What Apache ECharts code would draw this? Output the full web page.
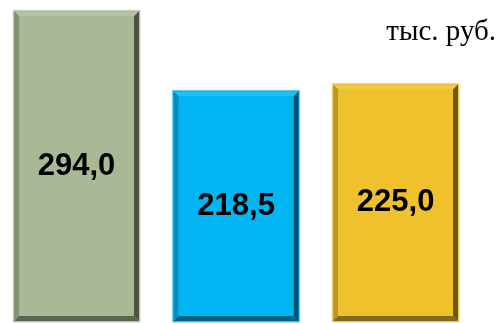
<!DOCTYPE html>
<html>
<head>
<meta charset="utf-8">
<script src="https://cdn.jsdelivr.net/npm/echarts@6/dist/echarts.min.js"></script>
<style>
  html, body { margin: 0; padding: 0; background: #fff; }
  #main { width: 498px; height: 323px; }
</style>
</head>
<body>
<div id="main"></div>
<script>
var categories = ['A', 'B', 'C'];
var values = [294.0, 218.5, 225.0];
var labels = ['294,0', '218,5', '225,0'];
var colors = ['#a9b895', '#00b5f1', '#efc12d'];
var unitLabel = 'тыс. руб.';

// lighten / darken a hex colour
function shade(hex, k) {
    var n = parseInt(hex.slice(1), 16);
    var r = (n >> 16) & 255, g = (n >> 8) & 255, b = n & 255;
    function f(c) {
        var v = k < 0 ? c * (1 + k) : c + (255 - c) * k;
        return Math.max(0, Math.min(255, Math.round(v)));
    }
    return 'rgb(' + f(r) + ',' + f(g) + ',' + f(b) + ')';
}

function renderBevelBar(params, api) {
    var idx = api.value(0);
    var top = api.coord([idx, api.value(1)]);
    var base = api.coord([idx, 0]);
    var bw = api.size([1, 0])[0] * 0.795;
    var x0 = top[0] - bw / 2, x1 = top[0] + bw / 2;
    var y0 = top[1], y1 = base[1];
    var b = 6;
    var c = colors[idx];
    function poly(pts, fill) {
        return { type: 'polygon', shape: { points: pts }, style: { fill: fill } };
    }
    return {
        type: 'group',
        children: [
            { type: 'rect', shape: { x: x0, y: y0, width: bw, height: y1 - y0 },
              style: { fill: c, stroke: shade(c, 0.35), lineWidth: 1 } },
            poly([[x0 + 1, y0 + 1], [x1 - 1, y0 + 1], [x1 - b, y0 + b], [x0 + b, y0 + b]], shade(c, 0.12)),
            poly([[x0 + 1, y0 + 1], [x0 + b, y0 + b], [x0 + b, y1 - b], [x0 + 1, y1 - 1]], shade(c, -0.22)),
            poly([[x1 - 1, y0 + 1], [x1 - 1, y1 - 1], [x1 - b, y1 - b], [x1 - b, y0 + b]], shade(c, -0.55)),
            poly([[x0 + 1, y1 - 1], [x1 - 1, y1 - 1], [x1 - b, y1 - b], [x0 + b, y1 - b]], shade(c, -0.45)),
            { type: 'rect', shape: { x: x0 + b, y: y0 + b, width: bw - 2 * b, height: y1 - y0 - 2 * b },
              style: { fill: c } },
            { type: 'text', x: top[0], y: (y0 + y1) / 2,
              style: { text: labels[idx], fill: '#000', font: 'bold 31px "Liberation Sans"',
                       align: 'center', verticalAlign: 'middle' } }
        ]
    };
}

var chart = echarts.init(document.getElementById('main'));
var option = {
    animation: false,
    grid: { left: 0, right: 0, top: 4, bottom: 1 },
    // categories sit at 0, 1, 2 on a hidden value axis
    xAxis: { type: 'value', min: -0.48, max: 2.642, show: false },
    yAxis: { type: 'value', min: 0, max: 300, show: false },
    graphic: [{
        type: 'text', right: 2, top: 18,
        style: { text: unitLabel, font: '29px "Liberation Serif"', fill: '#000' }
    }],
    series: [{
        type: 'custom',
        name: categories.join(','),
        renderItem: renderBevelBar,
        encode: { x: 0, y: 1 },
        data: values.map(function (v, i) { return [i, v]; })
    }]
};
chart.setOption(option);
</script>
</body>
</html>
